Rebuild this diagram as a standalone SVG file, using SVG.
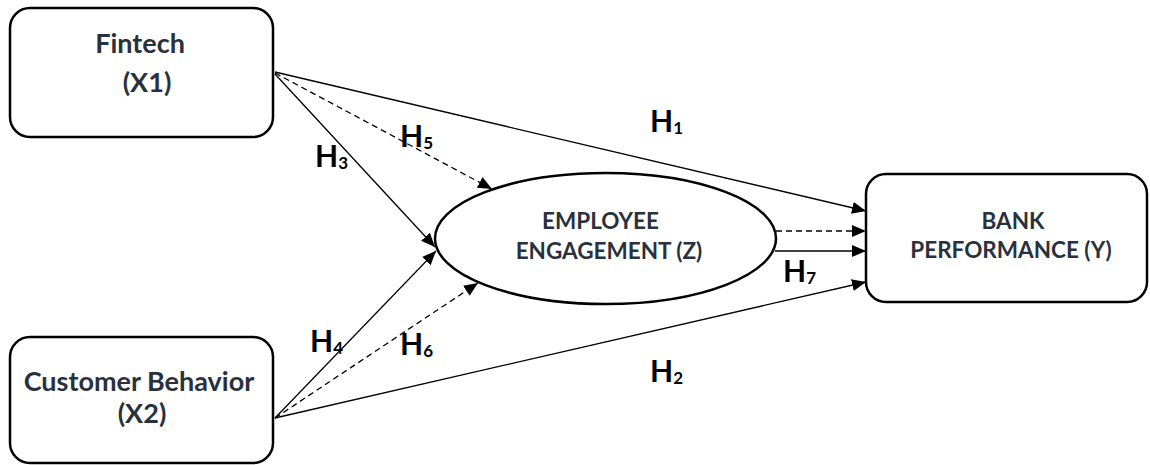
<svg xmlns="http://www.w3.org/2000/svg" width="1150" height="465" viewBox="0 0 1150 465">
<style>
.box{fill:#fff;stroke:#000;stroke-width:2.5}
.nt{font-family:Lato,"Noto Sans","DejaVu Sans",sans-serif;font-weight:bold;fill:#29313d;text-anchor:middle}
.big{font-size:27px}
.mid{font-size:22.5px}
.ln{stroke:#000;stroke-width:1.3;fill:none}
.ds{stroke-dasharray:6 4}
.hl{font-family:Lato,"Noto Sans","DejaVu Sans",sans-serif;font-weight:bold;font-size:30px;fill:#000}
.sub{font-size:17px}
</style>
<defs>
<marker id="ah" markerUnits="userSpaceOnUse" markerWidth="15" markerHeight="13" refX="14" refY="6" orient="auto">
<path d="M0,0 L14,6 L0,12 z" fill="#000"/>
</marker>
</defs>
<rect width="1150" height="465" fill="#fff"/>
<g id="connectors">
<line class="ln" x1="275" y1="72" x2="866" y2="211" marker-end="url(#ah)"/>
<line class="ln ds" x1="275" y1="73" x2="492" y2="189" marker-end="url(#ah)"/>
<line class="ln" x1="275" y1="74" x2="435" y2="247" marker-end="url(#ah)"/>
<line class="ln" x1="275" y1="418" x2="436" y2="251" marker-end="url(#ah)"/>
<line class="ln ds" x1="275" y1="418" x2="478" y2="283" marker-end="url(#ah)"/>
<line class="ln" x1="275" y1="418" x2="866" y2="282" marker-end="url(#ah)"/>
<line class="ln ds" x1="776" y1="231" x2="866" y2="231" marker-end="url(#ah)"/>
<line class="ln" x1="775" y1="251" x2="866" y2="251" marker-end="url(#ah)"/>
</g>
<g id="labels">
<text class="hl" x="650" y="132">H<tspan class="sub" dy="2">1</tspan></text>
<text class="hl" x="400" y="147">H<tspan class="sub" dy="2">5</tspan></text>
<text class="hl" x="315" y="167">H<tspan class="sub" dy="2">3</tspan></text>
<text class="hl" x="310" y="352">H<tspan class="sub" dy="2">4</tspan></text>
<text class="hl" x="400" y="355">H<tspan class="sub" dy="2">6</tspan></text>
<text class="hl" x="783" y="282">H<tspan class="sub" dy="2">7</tspan></text>
<text class="hl" x="650" y="382">H<tspan class="sub" dy="2">2</tspan></text>
</g>
<g id="fintech">
<rect class="box" x="10" y="8" width="263" height="129" rx="20"/>
<text class="nt big" x="140" y="53">Fintech</text>
<text class="nt big" x="147" y="92">(X1)</text>
</g>
<g id="customer">
<rect class="box" x="10" y="337" width="263" height="126" rx="20"/>
<text class="nt big" x="139" y="391">Customer Behavior</text>
<text class="nt big" x="142" y="423">(X2)</text>
</g>
<g id="engagement">
<ellipse class="box" cx="605.5" cy="238.5" rx="170.5" ry="65.5"/>
<text class="nt mid" x="600.5" y="229">EMPLOYEE</text>
<text class="nt mid" x="609" y="259">ENGAGEMENT (Z)</text>
</g>
<g id="bank">
<rect class="box" x="866" y="174" width="281" height="128" rx="20"/>
<text class="nt mid" x="1013" y="229">BANK</text>
<text class="nt mid" x="1011" y="258">PERFORMANCE (Y)</text>
</g>
</svg>
